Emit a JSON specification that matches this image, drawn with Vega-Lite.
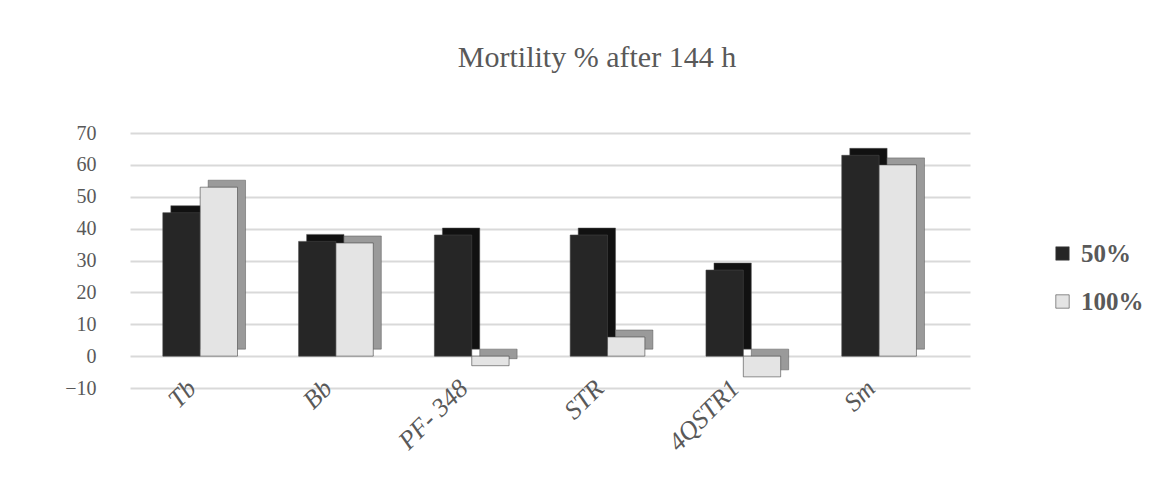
{
  "$schema": "https://vega.github.io/schema/vega-lite/v6.json",
  "autosize": "none",
  "width": 840,
  "height": 255,
  "padding": {"left": 130, "top": 133, "right": 200, "bottom": 89},
  "background": "white",
  "title": {
    "text": "Mortility % after 144 h",
    "font": "Liberation Serif",
    "fontSize": 30,
    "fontWeight": "normal",
    "color": "#595959",
    "anchor": "middle",
    "dx": 47,
    "offset": 50
  },
  "data": {
    "values": [
      {"strain": "Tb", "conc": "50%", "value": 45},
      {"strain": "Tb", "conc": "100%", "value": 53},
      {"strain": "Bb", "conc": "50%", "value": 36},
      {"strain": "Bb", "conc": "100%", "value": 35.5},
      {"strain": "PF- 348", "conc": "50%", "value": 38},
      {"strain": "PF- 348", "conc": "100%", "value": -3},
      {"strain": "STR", "conc": "50%", "value": 38},
      {"strain": "STR", "conc": "100%", "value": 6},
      {"strain": "4QSTR1", "conc": "50%", "value": 27},
      {"strain": "4QSTR1", "conc": "100%", "value": -6.5},
      {"strain": "Sm", "conc": "50%", "value": 63},
      {"strain": "Sm", "conc": "100%", "value": 60}
    ]
  },
  "encoding": {
    "x": {
      "field": "strain",
      "type": "nominal",
      "sort": ["Tb", "Bb", "PF- 348", "STR", "4QSTR1", "Sm"],
      "scale": {"paddingInner": 0.45, "paddingOuter": 0.318, "align": 0.38},
      "axis": {
        "title": null,
        "domain": false,
        "ticks": false,
        "labelAngle": -45,
        "labelAlign": "right",
        "labelBaseline": "middle",
        "labelFont": "Liberation Serif",
        "labelFontStyle": "italic",
        "labelFontSize": 26,
        "labelColor": "#595959",
        "labelPadding": -4,
        "labelOffset": -8
      }
    },
    "y": {
      "field": "value",
      "type": "quantitative",
      "scale": {"domain": [-10, 70], "nice": false, "zero": false},
      "axis": {
        "title": null,
        "domain": false,
        "ticks": false,
        "values": [-10, 0, 10, 20, 30, 40, 50, 60, 70],
        "labelFont": "Liberation Serif",
        "labelFontSize": 20,
        "labelColor": "#595959",
        "labelPadding": 34,
        "grid": true,
        "gridColor": "#d9d9d9",
        "gridWidth": 2
      }
    }
  },
  "layer": [
    {
      "mark": {"type": "bar", "yOffset": -7, "y2Offset": -7, "stroke": "#555", "strokeWidth": 0.5},
      "encoding": {
        "xOffset": {"field": "conc", "type": "nominal", "sort": ["50%", "100%"], "scale": {"range": [8, 82.7]}},
        "color": {
          "field": "conc",
          "type": "nominal",
          "sort": ["50%", "100%"],
          "scale": {"range": ["#111111", "#9a9a9a"]},
          "legend": null
        }
      }
    },
    {
      "mark": {"type": "bar", "stroke": "#444", "strokeWidth": 0.6},
      "encoding": {
        "xOffset": {"field": "conc", "type": "nominal", "sort": ["50%", "100%"]},
        "color": {
          "field": "conc",
          "type": "nominal",
          "sort": ["50%", "100%"],
          "scale": {"range": ["#262626", "#e4e4e4"]},
          "legend": {
            "title": null,
            "orient": "none",
            "legendX": 920,
            "legendY": 108,
            "symbolType": "square",
            "symbolSize": 180,
            "symbolStrokeColor": "#444",
            "symbolStrokeWidth": 0.6,
            "labelFont": "Liberation Serif",
            "labelFontSize": 25,
            "labelFontWeight": "bold",
            "labelColor": "#595959",
            "rowPadding": 22,
            "labelOffset": 6
          }
        }
      }
    }
  ],
  "resolve": {"scale": {"color": "independent", "xOffset": "independent"}},
  "config": {
    "view": {"stroke": null},
    "axisY": {"labelFont": "Liberation Serif", "labelFontSize": 20, "labelColor": "#595959"}
  }
}
